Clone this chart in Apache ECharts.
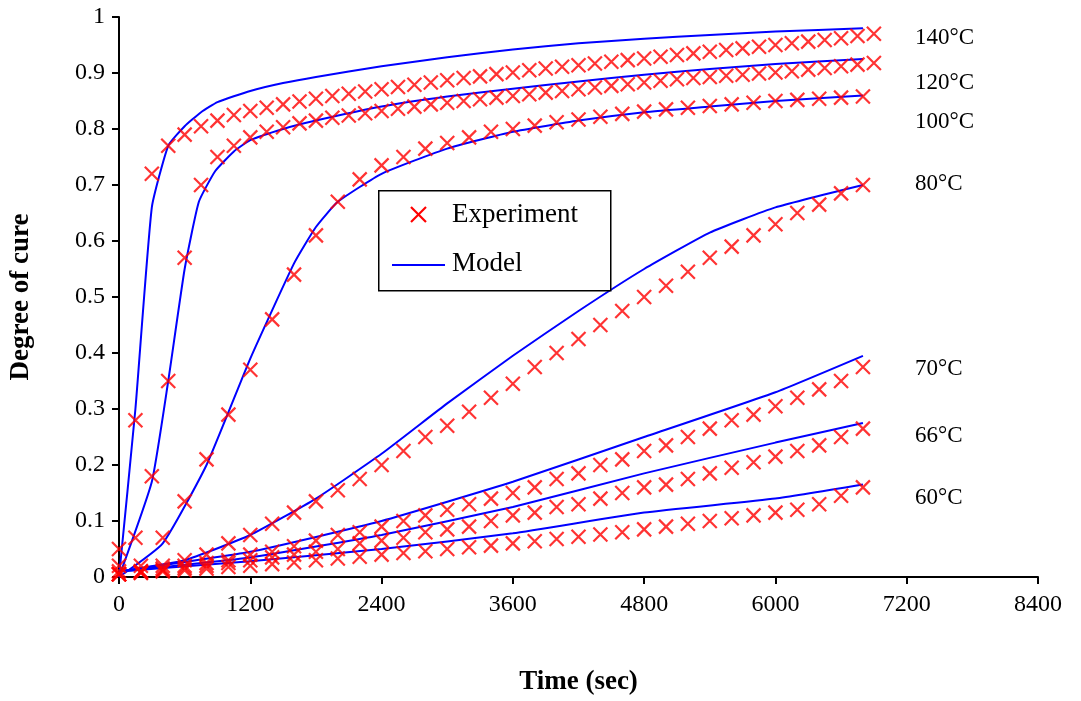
<!DOCTYPE html>
<html>
<head>
<meta charset="utf-8">
<script src="https://cdn.jsdelivr.net/npm/echarts@6/dist/echarts.min.js"></script>
<style>html,body{margin:0;background:#fff}#main{width:1081px;height:701px}</style>
</head>
<body>
<div id="main"></div>
<script>
// experiment times (sec)
const tSlow = [0,200,400,600,800,1000,1200,1400,1600,1800,2000,2200,2400,2600,2800,3000,3200,3400,3600,3800,4000,4200,4400,4600,4800,5000,5200,5400,5600,5800,6000,6200,6400,6600,6800];
const tFast = [0,150,300,450,600,750,900,1050,1200,1350,1500,1650,1800,1950,2100,2250,2400,2550,2700,2850,3000,3150,3300,3450,3600,3750,3900,4050,4200,4350,4500,4650,4800,4950,5100,5250,5400,5550,5700,5850,6000,6150,6300,6450,6600,6750,6900];

const exp140 = [0.05,0.28,0.72,0.77,0.79,0.805,0.815,0.825,0.832,0.838,0.844,0.849,0.854,0.859,0.863,0.867,0.871,0.875,0.879,0.883,0.887,0.891,0.894,0.898,0.901,0.905,0.908,0.911,0.914,0.917,0.92,0.923,0.926,0.929,0.932,0.935,0.938,0.941,0.944,0.947,0.95,0.953,0.956,0.959,0.962,0.966,0.970];
const exp120 = [0.02,0.07,0.18,0.35,0.57,0.70,0.75,0.77,0.785,0.795,0.803,0.81,0.815,0.82,0.824,0.828,0.832,0.836,0.84,0.844,0.847,0.85,0.853,0.856,0.859,0.862,0.865,0.868,0.871,0.874,0.877,0.88,0.883,0.886,0.889,0.891,0.893,0.895,0.897,0.899,0.901,0.903,0.906,0.909,0.912,0.915,0.918];
const exp100 = [0.01,0.02,0.07,0.135,0.21,0.29,0.37,0.46,0.54,0.61,0.67,0.71,0.735,0.75,0.765,0.775,0.785,0.795,0.80,0.806,0.812,0.817,0.822,0.827,0.831,0.835,0.838,0.841,0.844,0.847,0.85,0.852,0.854,0.856,0.858];
const exp80 = [0.005,0.01,0.02,0.03,0.04,0.06,0.075,0.095,0.115,0.135,0.155,0.175,0.20,0.225,0.25,0.27,0.295,0.32,0.345,0.375,0.40,0.425,0.45,0.475,0.50,0.52,0.545,0.57,0.59,0.61,0.63,0.65,0.665,0.685,0.70];
const exp70 = [0.005,0.01,0.015,0.02,0.025,0.03,0.04,0.045,0.055,0.065,0.075,0.08,0.09,0.10,0.11,0.12,0.13,0.14,0.15,0.16,0.175,0.185,0.20,0.21,0.225,0.235,0.25,0.265,0.28,0.29,0.305,0.32,0.335,0.35,0.375];
const exp66 = [0.005,0.008,0.012,0.016,0.02,0.025,0.03,0.035,0.04,0.045,0.05,0.06,0.065,0.07,0.08,0.085,0.09,0.10,0.11,0.115,0.125,0.13,0.14,0.15,0.16,0.165,0.175,0.185,0.195,0.205,0.215,0.225,0.235,0.25,0.265];
const exp60 = [0.005,0.007,0.01,0.012,0.015,0.018,0.02,0.023,0.026,0.03,0.033,0.036,0.04,0.043,0.046,0.05,0.053,0.056,0.06,0.064,0.068,0.072,0.076,0.08,0.085,0.09,0.095,0.10,0.105,0.11,0.115,0.12,0.13,0.145,0.16];

// model curves [time, degree]
const mod140 = [[0,0],[150,0.30],[300,0.66],[450,0.77],[600,0.805],[750,0.83],[900,0.848],[1200,0.868],[1500,0.882],[1800,0.893],[2400,0.912],[3000,0.928],[3600,0.942],[4200,0.953],[4800,0.961],[5400,0.968],[6000,0.974],[6800,0.98]];
const mod120 = [[0,0],[300,0.17],[450,0.35],[600,0.55],[730,0.67],[880,0.725],[1050,0.76],[1200,0.78],[1500,0.80],[1800,0.815],[2400,0.84],[3000,0.858],[3600,0.872],[4200,0.885],[4800,0.897],[5400,0.907],[6000,0.916],[6800,0.925]];
const mod100 = [[0,0],[400,0.06],[800,0.2],[1200,0.39],[1600,0.56],[1800,0.625],[2000,0.67],[2400,0.72],[3000,0.765],[3600,0.795],[4200,0.815],[4800,0.83],[5400,0.84],[6000,0.85],[6800,0.86]];
const mod80 = [[0,0.01],[600,0.03],[1200,0.075],[1800,0.14],[2400,0.22],[3000,0.31],[3600,0.395],[4200,0.475],[4800,0.55],[5400,0.615],[6000,0.66],[6800,0.70]];
const mod70 = [[0,0.01],[1200,0.045],[2400,0.10],[3600,0.17],[4800,0.25],[6000,0.33],[6800,0.395]];
const mod66 = [[0,0.01],[1200,0.035],[2400,0.075],[3600,0.125],[4800,0.185],[6000,0.24],[6800,0.275]];
const mod60 = [[0,0.01],[1200,0.028],[2400,0.05],[3600,0.078],[4800,0.115],[6000,0.14],[6800,0.165]];

const labels = [['140°C',0.96],['120°C',0.88],['100°C',0.81],['80°C',0.7],['70°C',0.37],['66°C',0.25],['60°C',0.14]];

const font = 'Liberation Serif';
const cross = 'path://M0,0L10,10M10,0L0,10';
const zip = (t, v) => t.map((x, i) => [x, v[i]]);

const chart = echarts.init(document.getElementById('main'));
const series = [];
[[tFast,exp140],[tFast,exp120],[tSlow,exp100],[tSlow,exp80],[tSlow,exp70],[tSlow,exp66],[tSlow,exp60]].forEach(([t,v]) => {
    series.push({
        type: 'scatter', data: zip(t, v), symbol: cross, symbolSize: 14,
        itemStyle: {color: 'none', borderColor: '#ff0000', borderWidth: 2.2}, z: 3
    });
});
[mod140,mod120,mod100,mod80,mod70,mod66,mod60].forEach(d => {
    series.push({
        type: 'line', data: d, showSymbol: false, smooth: 0.15,
        lineStyle: {color: '#0000ff', width: 2}, z: 2
    });
});

chart.setOption({
    animation: false,
    grid: {left: 118, right: 43, top: 17, bottom: 123},
    xAxis: {
        type: 'value', min: 0, max: 8400, interval: 1200,
        name: 'Time (sec)', nameLocation: 'middle', nameGap: 92,
        nameTextStyle: {fontFamily: font, fontSize: 27, fontWeight: 'bold', color: '#000'},
        axisLine: {lineStyle: {color: '#000', width: 2}},
        axisTick: {length: 7, lineStyle: {color: '#000', width: 2}},
        axisLabel: {fontFamily: font, fontSize: 24, color: '#000', margin: 16, formatter: v => String(v)},
        splitLine: {show: false}
    },
    yAxis: {
        type: 'value', min: 0, max: 1, interval: 0.1,
        name: 'Degree of cure', nameLocation: 'middle', nameGap: 84,
        nameTextStyle: {fontFamily: font, fontSize: 27, fontWeight: 'bold', color: '#000'},
        axisLine: {show: true, lineStyle: {color: '#000', width: 2}},
        axisTick: {show: true, length: 7, lineStyle: {color: '#000', width: 2}},
        axisLabel: {fontFamily: font, fontSize: 24, color: '#000', margin: 14,
            formatter: v => String(Math.round(v * 10) / 10)},
        splitLine: {show: false}
    },
    series: series,
    graphic: [
        {type: 'rect', left: 378, top: 190, shape: {width: 232, height: 100},
         style: {fill: '#fff', stroke: '#000', lineWidth: 1.5}, z: 10},
        {type: 'polyline', shape: {points: [[411,207],[426,222]]}, style: {stroke: '#f00', lineWidth: 2.2}, z: 11},
        {type: 'polyline', shape: {points: [[426,207],[411,222]]}, style: {stroke: '#f00', lineWidth: 2.2}, z: 11},
        {type: 'line', shape: {x1: 392, y1: 265, x2: 445, y2: 265}, style: {stroke: '#00f', lineWidth: 2}, z: 11},
        {type: 'text', left: 452, top: 201, style: {text: 'Experiment', font: '27px "Liberation Serif"', fill: '#000'}, z: 11},
        {type: 'text', left: 452, top: 250, style: {text: 'Model', font: '27px "Liberation Serif"', fill: '#000'}, z: 11}
    ].concat(labels.map(([s, y]) => ({
        type: 'text', left: 915, top: 578 - y * 561 - 13,
        style: {text: s, font: '23px "Liberation Serif"', fill: '#000'}
    })))
});
</script>
</body>
</html>
